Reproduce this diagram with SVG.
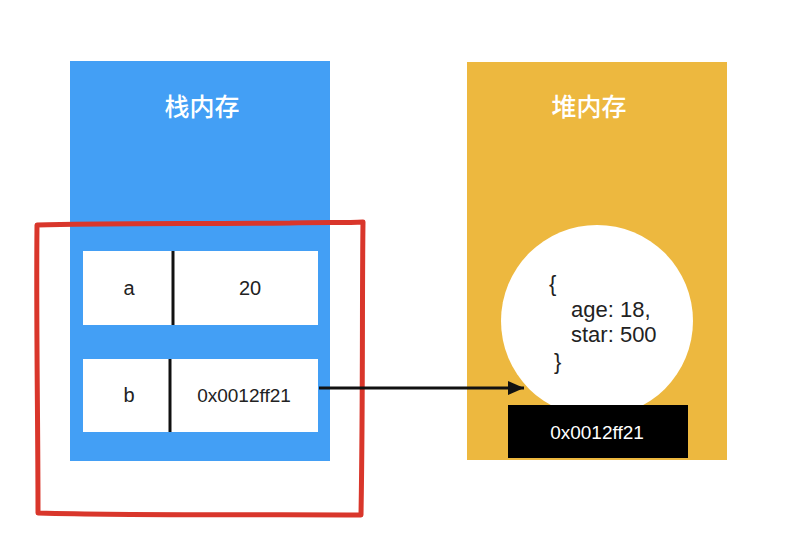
<svg xmlns="http://www.w3.org/2000/svg" width="787" height="551" viewBox="0 0 787 551">
<style>
.title{font-family:"Noto Sans CJK SC","Noto Sans",sans-serif;font-size:25px;fill:#ffffff;text-anchor:middle;font-weight:500}
.t{font-family:"Liberation Sans",Arial,sans-serif;fill:#222222}
.c{text-anchor:middle}
.cell{fill:#ffffff}
.div{stroke:#111111;stroke-width:3}
</style>
<defs>
<marker id="ah" markerWidth="16" markerHeight="14" refX="16" refY="7" orient="auto" markerUnits="userSpaceOnUse" viewBox="0 0 16 14">
<path d="M0,0 L16,7 L0,14 z" fill="#111111"/>
</marker>
</defs>
<rect width="787" height="551" fill="#ffffff"/>
<g id="stack">
<rect x="70" y="61" width="260" height="400" fill="#439FF5"/>
<text class="title" x="202" y="116">栈内存</text>
</g>
<g id="cell-a">
<rect class="cell" x="83" y="251" width="235" height="74"/>
<line class="div" x1="173" y1="251" x2="173" y2="325"/>
<text class="t c" x="129" y="295" font-size="20">a</text>
<text class="t c" x="250" y="295" font-size="20">20</text>
</g>
<g id="cell-b">
<rect class="cell" x="83" y="359" width="235" height="73"/>
<line class="div" x1="170" y1="359" x2="170" y2="432"/>
<text class="t c" x="129" y="402" font-size="20">b</text>
<text class="t c" x="244" y="402" font-size="19">0x0012ff21</text>
</g>
<g id="heap">
<rect x="467" y="62" width="260" height="398" fill="#EDB83F"/>
<text class="title" x="589" y="116">堆内存</text>
</g>
<g id="object">
<circle cx="597" cy="321" r="96" fill="#ffffff"/>
<text class="t" x="549" y="291" font-size="22">{</text>
<text class="t" x="571" y="317" font-size="22">age: 18,</text>
<text class="t" x="571" y="342" font-size="22">star: 500</text>
<text class="t" x="554" y="369" font-size="22">}</text>
</g>
<g id="address">
<rect x="508" y="405" width="180" height="53" fill="#000000"/>
<text class="c" x="597" y="439" font-size="19" fill="#ffffff" font-family="Liberation Sans, Arial, sans-serif">0x0012ff21</text>
</g>
<g id="highlight">
<path d="M37,225 C100,223 200,224 290,223 C320,222 345,223 363,222 C362,300 363,400 361,515 C280,514 150,516 38,513 C38,420 36,320 37,225 Z" fill="none" stroke="#D9362B" stroke-width="5" stroke-linejoin="round"/>
</g>
<g id="connectors">
<line x1="319" y1="388" x2="524" y2="388" stroke="#111111" stroke-width="3" marker-end="url(#ah)"/>
</g>
</svg>
